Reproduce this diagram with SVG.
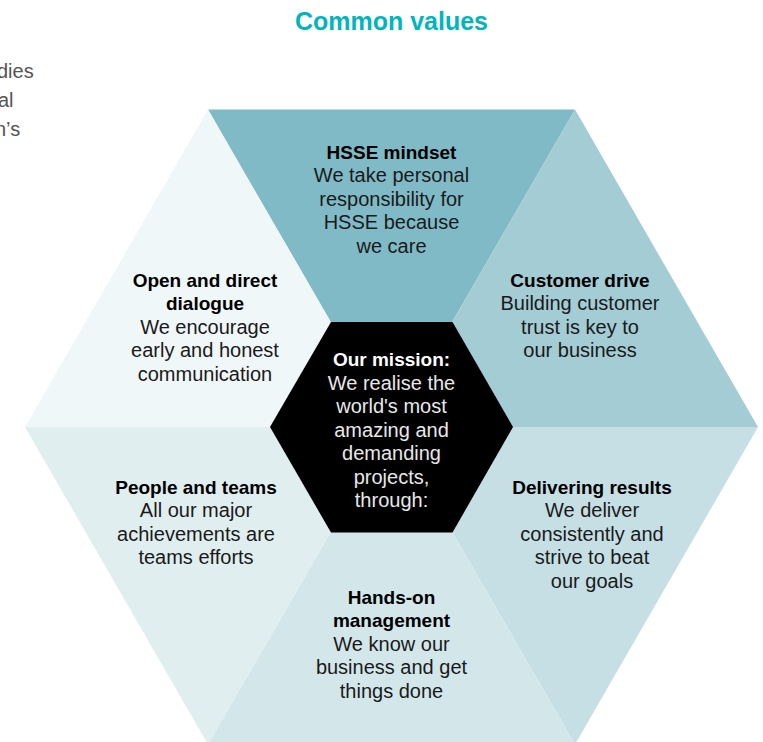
<svg xmlns="http://www.w3.org/2000/svg" width="763" height="742" viewBox="0 0 763 742">
<style>
.t{font-family:"Liberation Sans",Arial,sans-serif;font-size:20px;fill:#1a1a1a;text-anchor:middle}
.b{font-weight:bold;fill:#000;font-size:19px}
.w{fill:#e8e8e8}
.wb{font-weight:bold;fill:#fff;font-size:19px}
.side{font-family:"Liberation Sans",Arial,sans-serif;font-size:20px;fill:#555}
</style>
<rect width="763" height="742" fill="#fff"/>
<text x="391.5" y="30" font-family="Liberation Sans,Arial,sans-serif" font-size="25" font-weight="bold" fill="#00b5bd" text-anchor="middle" textLength="193" lengthAdjust="spacingAndGlyphs">Common values</text>
<text class="side" x="-3" y="78">dies</text>
<text class="side" x="-2" y="107">al</text>
<text class="side" x="-5" y="136">n’s</text>
<g id="sectors">
<polygon id="s-top" points="208,109.6 575,109.6 391.5,427" fill="#80bac6"/>
<polygon id="s-tr" points="575,109.6 758,427 391.5,427" fill="#a3ccd5"/>
<polygon id="s-br" points="758,427 575,744.4 391.5,427" fill="#c5dfe4"/>
<polygon id="s-bot" points="575,744.4 208,744.4 391.5,427" fill="#d3e7eb"/>
<polygon id="s-bl" points="208,744.4 25,427 391.5,427" fill="#e0eeef"/>
<polygon id="s-tl" points="25,427 208,109.6 391.5,427" fill="#f0f7f9"/>
</g>
<g id="mission">
<polygon points="331,322 452.5,322 513,427 452.5,532.5 331,532.5 270,427" fill="#000"/>
<text class="t wb" x="391.5" y="366">Our mission:</text>
<text class="t w" x="391.5" y="390">We realise the</text>
<text class="t w" x="391.5" y="413">world's most</text>
<text class="t w" x="391.5" y="437">amazing and</text>
<text class="t w" x="391.5" y="460">demanding</text>
<text class="t w" x="391.5" y="484">projects,</text>
<text class="t w" x="391.5" y="507">through:</text>
</g>
<g id="hsse">
<text class="t b" x="391.5" y="159">HSSE mindset</text>
<text class="t" x="391.5" y="182">We take personal</text>
<text class="t" x="391.5" y="206">responsibility for</text>
<text class="t" x="391.5" y="229">HSSE because</text>
<text class="t" x="391.5" y="253">we care</text>
</g>
<g id="open">
<text class="t b" x="205" y="287">Open and direct</text>
<text class="t b" x="205" y="310">dialogue</text>
<text class="t" x="205" y="334">We encourage</text>
<text class="t" x="205" y="357">early and honest</text>
<text class="t" x="205" y="381">communication</text>
</g>
<g id="customer">
<text class="t b" x="580" y="287">Customer drive</text>
<text class="t" x="580" y="310">Building customer</text>
<text class="t" x="580" y="334">trust is key to</text>
<text class="t" x="580" y="357">our business</text>
</g>
<g id="people">
<text class="t b" x="196" y="494">People and teams</text>
<text class="t" x="196" y="517">All our major</text>
<text class="t" x="196" y="541">achievements are</text>
<text class="t" x="196" y="564">teams efforts</text>
</g>
<g id="delivering">
<text class="t b" x="592" y="494">Delivering results</text>
<text class="t" x="592" y="517">We deliver</text>
<text class="t" x="592" y="541">consistently and</text>
<text class="t" x="592" y="564">strive to beat</text>
<text class="t" x="592" y="588">our goals</text>
</g>
<g id="handson">
<text class="t b" x="391.5" y="604">Hands-on</text>
<text class="t b" x="391.5" y="627">management</text>
<text class="t" x="391.5" y="651">We know our</text>
<text class="t" x="391.5" y="674">business and get</text>
<text class="t" x="391.5" y="698">things done</text>
</g>
<g id="connectors"></g>
</svg>
